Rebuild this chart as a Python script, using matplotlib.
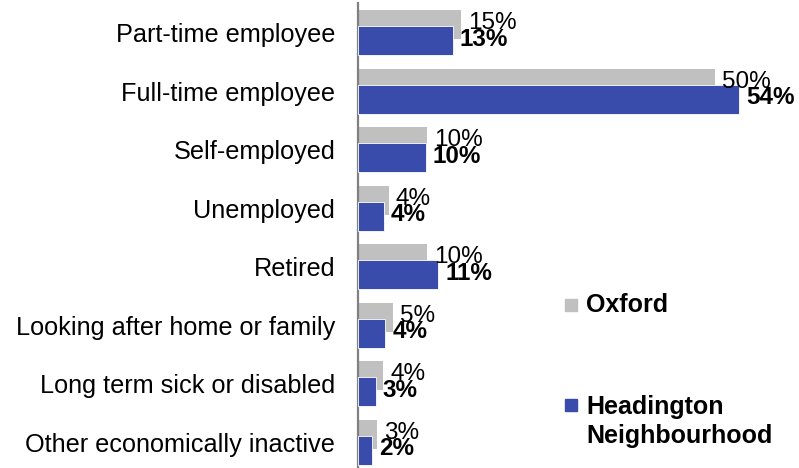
import matplotlib
matplotlib.use("Agg")
import matplotlib.pyplot as plt
import numpy as np
from matplotlib.patches import Rectangle

plt.rcParams["font.family"] = ["Liberation Sans", "DejaVu Sans"]

# datos (porcentajes)
categories = ["Part-time employee", "Full-time employee", "Self-employed",
              "Unemployed", "Retired", "Looking after home or family",
              "Long term sick or disabled", "Other economically inactive"]
oxford = [14.6, 50.4, 9.8, 4.4, 9.8, 5.0, 3.6, 2.8]
headington = [13.4, 53.8, 9.6, 3.7, 11.4, 3.9, 2.6, 2.1]
series_names = ["Oxford", "Headington\nNeighbourhood"]

GREY = "#c0c0c0"
BLUE = "#3a4cab"

W, H = 799, 468
fig = plt.figure(figsize=(W / 100, H / 100), dpi=100)
left = 357.5 / W
ax = fig.add_axes([left, 0, 1 - left, 465 / H])

y = np.arange(len(categories))
h = 0.496
off = 0.139
ax.barh(y - off, oxford, height=h, color=GREY, zorder=2)
ax.barh(y + off, headington, height=h, color=BLUE, edgecolor="white",
        linewidth=0.6, zorder=3)

for yi, v in zip(y, oxford):
    ax.annotate(f"{round(v)}%", (v, yi - off), xytext=(5, 1),
                textcoords="offset points", ha="left", va="center",
                fontsize=17.5, zorder=4)
for yi, v in zip(y, headington):
    ax.annotate(f"{round(v)}%", (v, yi + off), xytext=(5, 1),
                textcoords="offset points", ha="left", va="center",
                fontsize=17.5, fontweight="bold", zorder=5)

ax.set_xlim(0, (W - 357.5) / 7.1)
ax.set_ylim(7.441, -0.508)
ax.set_yticks(y)
ax.set_yticklabels(categories, fontsize=18.2)
ax.set_xticks([])
ax.tick_params(axis="y", length=0, pad=16)
for s in ["top", "right", "bottom"]:
    ax.spines[s].set_visible(False)
ax.spines["left"].set_color("#808080")
ax.spines["left"].set_linewidth(1.6)

# leyenda manual (coordenadas en píxeles de la figura)
def px(x, yy):
    return x / W, 1 - yy / H

# (y del cuadrado, y de la línea base de la última línea del texto)
for (sq_y, txt_y, name, col) in [(299, 311.5, series_names[0], GREY),
                                 (399, 443.3, series_names[1], BLUE)]:
    x0, y0 = px(565, sq_y + 12)
    fig.add_artist(Rectangle((x0, y0), 12 / W, 12 / H, color=col,
                             transform=fig.transFigure))
    tx, ty = px(586, txt_y)
    fig.text(tx, ty, name, fontsize=18, fontweight="bold", ha="left",
             va="baseline", linespacing=1.27)

fig.savefig("out.png", dpi=100)
